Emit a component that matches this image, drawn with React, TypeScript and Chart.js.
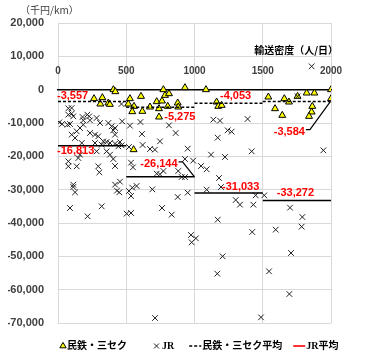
import React, { useEffect, useRef } from 'react';
import { Chart, registerables } from 'chart.js';

Chart.register(...registerables);

// ---- data ----
const privateX = [406, 420, 264, 325, 310, 369, 380,
  527, 608, 515, 557, 544, 618, 554, 674, 723, 762, 740, 784, 813, 772, 804, 877, 881, 740, 930,
  1084, 1162, 1174, 1199,
  1541, 1658, 1692, 1590, 1643, 1822, 1878, 1755, 2000, 2000, 1863, 1858, 1839];
const privateY = [0, -600, -2700, -2400, -4300, -4000, -4400,
  -2700, -2000, -4300, -5000, -6600, -6500, -18000, -5200, -3600, -3400, -5700, -1700, -1200, 0, -5000, -4000, -5200, -8200, 600,
  0, -3700, -5000, -4700,
  -2200, -2700, -3700, -5700, -7700, -1000, -1000, -2000, 0, -2700, -5000, -6700, -8000];

const jrX = [76, 100, 465, 100, 76, 112, 180, 215, 229, 283, 308, 10, 30, 70, 88, 185, 185, 234, 161, 137,
  100, 125, 234, 271, 295, 369, 393, 418, 405, 418, 470, 332, 356, 381, 418, 442, 320, 271, 174, 283,
  356, 381, 405, 161, 149, 76, 76, 137, 295, 303, 418, 454, 418, 432, 449, 112, 112, 125, 88, 320,
  217, 466, 454,
  527, 604, 615, 620, 520, 535, 549, 674, 710, 747, 813, 862, 950, 930, 990, 723, 747, 772, 881, 906,
  930, 691, 520, 544, 576, 535, 877, 950, 762, 833, 503, 535, 974, 1010, 979, 711,
  1138, 1187, 1389, 1243, 1272, 1170, 1419, 1121, 1223, 1048, 1089, 1180, 1089, 1194, 1302, 1333, 1431, 1448,
  1170, 1423, 1206, 1167, 1487,
  1511, 1700, 1790, 1785, 1595, 1944, 1755, 1858, 1707, 1546, 1695];
const jrY = [-5600, -5500, -4300, -7200, -7500, -8000, -8200, -7500, -8000, -8500, -10000, -9800, -10300, -10500, -10300, -10500, -9200, -9200, -11500, -12500,
  -13500, -14500, -13000, -13500, -14000, -10000, -11000, -11500, -12200, -13500, -9500, -15500, -15700, -16000, -16200, -17000, -16500, -16000, -16000, -18500,
  -18500, -19500, -20800, -19500, -20500, -21500, -23000, -23000, -23000, -24800, -22900, -27600, -28500, -30300, -30800, -28500, -29200, -30800, -35500, -35000,
  -38000, -16700, -15700,
  -10800, -9700, -13300, -16600, -17200, -21900, -23300, -17800, -18000, -15500, -10700, -13000, -17700, -20800, -21300, -25200, -25400, -24400, -24400, -26200,
  -26200, -29900, -30400, -29400, -28900, -31900, -32200, -30900, -35500, -37500, -37200, -37000, -43600, -44600, -45800, -68500,
  -9000, -9300, -8800, -12200, -12600, -14400, -18500, -19500, -20200, -22900, -23900, -26500, -30000, -29200, -33100, -34500, -34500, -31700,
  -39000, -42700, -50000, -55200, -68300,
  -31700, -35400, -38200, -41100, -42000, -18200, -2000, 7000, -49000, -54500, -61300];

const bandStart = [0, 500, 1000, 1500];
const bandEnd = [500, 1000, 1500, 2000];
const privateAvg = [-3557, -5275, -4053, -3584];
const jrAvg = [-16813, -26144, -31033, -33272];

const yMin = -70000;
const yMax = 20000;
const yStep = 10000;
const xMin = 0;
const xMax = 2000;
const xStep = 500;

const seriesNames = ['民鉄・三セク', 'JR', '民鉄・三セク平均', 'JR平均'];
const unitLabel = '（千円/km）';
const xAxisLabel = '輸送密度（人/日）';

// ---- helpers ----
const toPoints = (xs: number[], ys: number[]) => xs.map((x, i) => ({ x, y: ys[i] }));
const toSegments = (avgs: number[]) => {
  const out: { x: number; y: number | null }[] = [];
  avgs.forEach((v, i) => {
    if (i > 0) out.push({ x: bandStart[i], y: null });
    out.push({ x: bandStart[i], y: v }, { x: bandEnd[i], y: v });
  });
  return out;
};
const fmt = (v: number) => v.toLocaleString('en-US');

// label placement (pixel offsets from each band start / average line)
const privLabelOffset = [[-1, -6], [38, 9.5], [25.5, -7], [11, 30]];
const jrLabelOffset = [[-1, 5], [14, -13], [27.5, -6], [14, -8]];

const labelsPlugin = {
  id: 'avgLabels',
  afterDatasetsDraw(chart: any) {
    const { ctx, scales } = chart;
    const xs = scales.x;
    const ys = scales.y;
    ctx.save();
    ctx.font = 'bold 11px "Liberation Sans", Arial, sans-serif';
    ctx.textBaseline = 'middle';
    ctx.textAlign = 'left';
    const draw = (avgs: number[], offs: number[][], leaderIdx: number, leaderEndX: number) => {
      avgs.forEach((v, i) => {
        const lx = xs.getPixelForValue(bandStart[i]) + offs[i][0];
        const ly = ys.getPixelForValue(v) + offs[i][1];
        const t = fmt(v);
        ctx.fillStyle = '#ff0000';
        ctx.fillText(t, lx, ly);
        if (i === leaderIdx) {
          const w = ctx.measureText(t).width;
          const ex = xs.getPixelForValue(leaderEndX);
          const ey = ys.getPixelForValue(v);
          ctx.save();
          ctx.strokeStyle = '#000';
          ctx.lineWidth = 1.2;
          ctx.beginPath();
          ctx.moveTo(lx + w + 1, ly - 2);
          ctx.lineTo(lx + w + 5, ly - 2);
          ctx.lineTo(ex, ey);
          ctx.stroke();
          ctx.restore();
        }
      });
    };
    draw(privateAvg, privLabelOffset, 3, 1995);
    draw(jrAvg, jrLabelOffset, 1, 1000);
    ctx.restore();
  },
};

const textPlugin = {
  id: 'extraText',
  afterDraw(chart: any) {
    const { ctx, chartArea } = chart;
    ctx.save();
    ctx.textBaseline = 'middle';
    ctx.fillStyle = '#404040';
    ctx.font = '10px "Noto Sans CJK JP", sans-serif';
    ctx.textAlign = 'left';
    ctx.fillText(unitLabel, chartArea.left - 38, 10);
    ctx.fillStyle = '#000';
    ctx.font = 'bold 10px "Noto Sans CJK JP", sans-serif';
    ctx.textAlign = 'right';
    ctx.fillText(xAxisLabel, chartArea.right + 7, chartArea.top + 27);

    // legend
    const ly = 346;
    let x = chartArea.left + 2;
    ctx.textAlign = 'left';
    ctx.font = 'bold 10px "Liberation Serif", "Noto Sans CJK JP", serif';
    ctx.fillStyle = '#000';
    // triangle marker
    const r = 3.6;
    const cx = x + 3;
    ctx.beginPath();
    ctx.moveTo(cx, ly - r);
    ctx.lineTo(cx + r * 0.866, ly + r * 0.5);
    ctx.lineTo(cx - r * 0.866, ly + r * 0.5);
    ctx.closePath();
    ctx.fillStyle = '#ffff00';
    ctx.fill();
    ctx.strokeStyle = '#000';
    ctx.lineWidth = 1;
    ctx.stroke();
    x += 7;
    ctx.fillStyle = '#000';
    ctx.fillText(seriesNames[0], x, ly);
    x += ctx.measureText(seriesNames[0]).width + 27;
    // cross marker
    ctx.strokeStyle = '#222';
    ctx.beginPath();
    ctx.moveTo(x, ly - 2.5);
    ctx.lineTo(x + 5, ly + 2.5);
    ctx.moveTo(x + 5, ly - 2.5);
    ctx.lineTo(x, ly + 2.5);
    ctx.stroke();
    x += 8;
    ctx.fillText(seriesNames[1], x, ly);
    x += ctx.measureText(seriesNames[1]).width + 15;
    // dashed line
    ctx.save();
    ctx.setLineDash([3, 2]);
    ctx.lineWidth = 1.5;
    ctx.strokeStyle = '#000';
    ctx.beginPath();
    ctx.moveTo(x, ly);
    ctx.lineTo(x + 12, ly);
    ctx.stroke();
    ctx.restore();
    x += 13;
    ctx.fillText(seriesNames[2], x, ly);
    x += ctx.measureText(seriesNames[2]).width + 11;
    ctx.save();
    ctx.lineWidth = 2;
    ctx.strokeStyle = '#ff3333';
    ctx.beginPath();
    ctx.moveTo(x, ly);
    ctx.lineTo(x + 12, ly);
    ctx.stroke();
    ctx.restore();
    x += 13;
    ctx.fillText(seriesNames[3], x, ly);
    ctx.restore();
  },
};

export default function App() {
  const ref = useRef<HTMLCanvasElement | null>(null);
  useEffect(() => {
    if (!ref.current) return;
    const chart = new Chart(ref.current, {
      type: 'scatter',
      data: {
        datasets: [
          {
            label: seriesNames[0],
            data: toPoints(privateX, privateY),
            pointStyle: 'triangle',
            pointRadius: 4,
            backgroundColor: '#ffff00',
            borderColor: '#000',
            borderWidth: 1,
            order: 2,
          },
          {
            label: seriesNames[1],
            data: toPoints(jrX, jrY),
            pointStyle: 'crossRot',
            pointRadius: 4,
            borderColor: '#222',
            borderWidth: 1,
            order: 1,
          },
          {
            label: seriesNames[2],
            data: toSegments(privateAvg),
            showLine: true,
            spanGaps: false,
            pointRadius: 0,
            borderColor: '#000',
            borderWidth: 1.5,
            borderDash: [3, 2],
            order: 0,
          },
          {
            label: seriesNames[3],
            data: toSegments(jrAvg),
            showLine: true,
            spanGaps: false,
            pointRadius: 0,
            borderColor: '#000',
            borderWidth: 1.5,
            order: 0,
          },
        ],
      },
      options: {
        responsive: false,
        animation: false,
        layout: { padding: { left: 8, right: 38, top: 23, bottom: 32 } },
        plugins: {
          legend: { display: false },
          tooltip: { enabled: false },
        },
        scales: {
          x: {
            type: 'linear',
            position: { y: 0 } as any,
            min: xMin,
            max: xMax,
            ticks: {
              stepSize: xStep,
              padding: -24,
              color: '#404040',
              font: { family: '"Liberation Sans", Arial, sans-serif', size: 10, weight: 'bold' },
              callback: (v: any) => String(v),
            },
            grid: { color: '#d9d9d9', drawTicks: false },
            border: { color: '#000', width: 1.5 },
          },
          y: {
            type: 'linear',
            position: 'left',
            min: yMin,
            max: yMax,
            ticks: {
              stepSize: yStep,
              padding: 14,
              color: '#404040',
              font: { family: '"Liberation Sans", Arial, sans-serif', size: 11, weight: 'bold' },
              callback: (v: any) => fmt(Number(v)),
            },
            grid: { color: '#d9d9d9', drawTicks: false },
            border: { display: false },
            afterFit: (s: any) => { s.width = 50; },
          },
        },
      },
      plugins: [labelsPlugin, textPlugin],
    });
    return () => chart.destroy();
  }, []);
  return (
    <div style={{ position: 'fixed', left: 0, top: 0, width: 369, height: 355, background: '#fff' }}>
      <canvas ref={ref} width={369} height={355} style={{ display: 'block' }} />
    </div>
  );
}
